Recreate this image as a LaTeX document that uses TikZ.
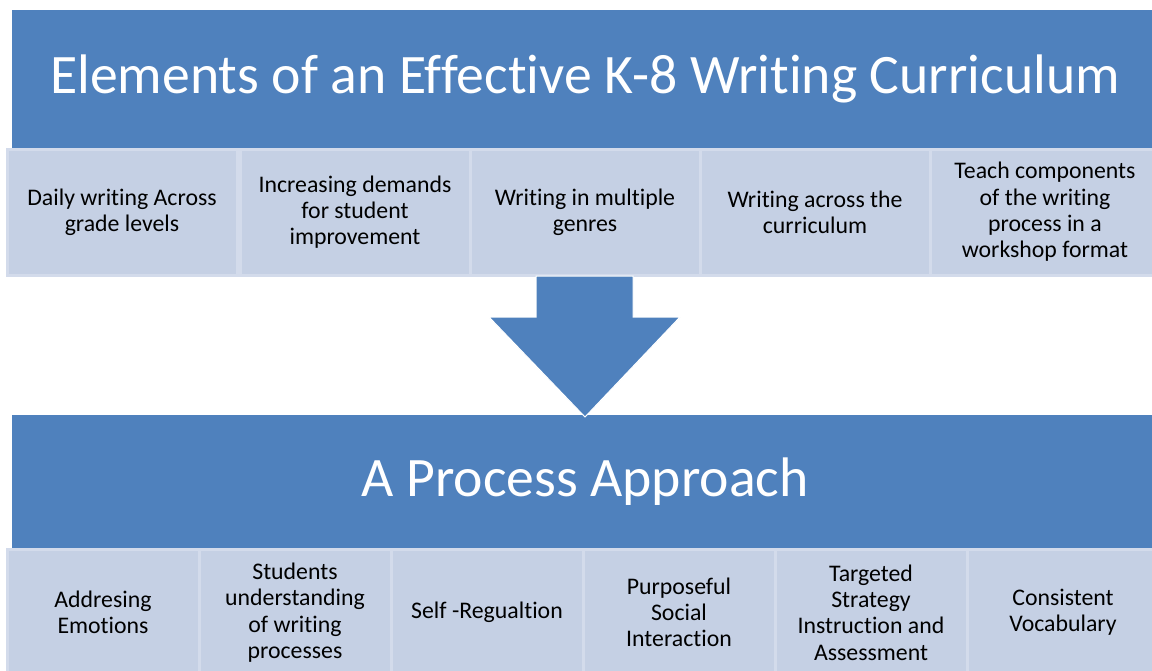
\documentclass[tikz,border=0pt]{standalone}
\usepackage{fontspec}
\setmainfont{Carlito}[Ligatures=NoCommon]
\definecolor{hdr}{HTML}{4F81BD}
\definecolor{boxfill}{HTML}{C5D0E4}
\definecolor{boxline}{HTML}{D3DBEB}
\begin{document}
\begin{tikzpicture}[x=1pt,y=-1pt,
  header/.style={fill=hdr,draw=none,inner sep=0pt,outer sep=0pt,
    minimum width=1146pt,minimum height=138pt,text=white,
    font=\fontsize{55.7}{67}\selectfont,anchor=north west},
  topbox/.style={fill=boxfill,draw=boxline,line width=3pt,inner sep=0pt,outer sep=0pt,
    minimum width=230pt,minimum height=126pt,align=center,
    font=\fontsize{23.8}{26.3}\selectfont,anchor=north west},
  botbox/.style={topbox,minimum width=192pt,minimum height=127pt},
  blockarrow/.style={fill=hdr,draw=white,line width=1pt,line join=miter}
]
\clip (0,0) rectangle (1152,670);
\fill[white] (0,0) rectangle (1152,670);
% top header
\node[header] (h1) at (12,10) {Elements of an Effective K-8 Writing Curriculum};
\node[topbox] (t1) at (7,149) {Daily writing Across\\grade levels};
\node[topbox] (t2) at (240,149) {Increasing demands\\for student\\improvement};
\node[topbox] (t3) at (470,149) {Writing in multiple\\genres};
\node[topbox] (t4) at (700,149) {Writing across the\\curriculum};
\node[topbox] (t5) at (930,149) {Teach components\\of the writing\\process in a\\workshop format};
% bottom header
\node[header,minimum height=134pt] (h2) at (12,415) {A Process Approach};
\node[botbox] (b1) at (7,549) {Addresing\\Emotions};
\node[botbox] (b2) at (199,549) {Students\\understanding\\of writing\\processes};
\node[botbox] (b3) at (391,549) {Self -Regualtion};
\node[botbox] (b4) at (583,549) {Purposeful\\Social\\Interaction};
\node[botbox] (b5) at (775,549) {Targeted\\Strategy\\Instruction and\\Assessment};
\node[botbox] (b6) at (967,549) {Consistent\\Vocabulary};
% block arrow
\draw[blockarrow] (536,276) -- (633,276) -- (633,317) -- (680,317) -- (585,417)
  -- (489,317) -- (536,317) -- cycle;
\end{tikzpicture}
\end{document}
